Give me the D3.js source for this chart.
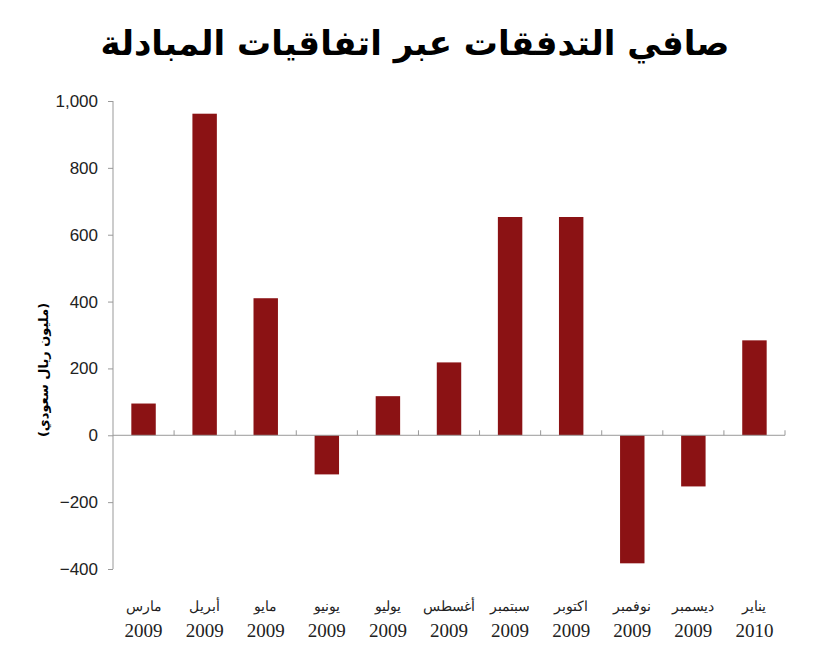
<!DOCTYPE html>
<html><head><meta charset="utf-8">
<script src="https://cdn.jsdelivr.net/npm/d3@7/dist/d3.min.js"></script>
<style>body{margin:0;background:#fff}</style></head>
<body><svg id="c" width="830" height="648"></svg>
<script>
const months = ["مارس","أبريل","مايو","يونيو","يوليو","أغسطس","سبتمبر","اكتوبر","نوفمبر","ديسمبر","يناير"];
const years = ["2009","2009","2009","2009","2009","2009","2009","2009","2009","2009","2010"];
const values = [95, 962, 410, -117, 117, 218, 653, 653, -383, -153, 284];
const yTicks = [-400,-200,0,200,400,600,800,1000];

const svg = d3.select("#c");
const x = d3.scaleBand().domain(d3.range(months.length)).range([113,785]).paddingInner(0.6).paddingOuter(0.3);
const band = d3.scaleBand().domain(d3.range(months.length)).range([113,785]);
const y = d3.scaleLinear().domain([-400,1000]).range([569,101]);

svg.append("text").attr("x",415).attr("y",55).attr("text-anchor","middle")
  .attr("font-family","DejaVu Sans").attr("font-weight","bold").attr("font-size",34).attr("direction","rtl")
  .text("صافي التدفقات عبر اتفاقيات المبادلة");

svg.selectAll("rect.b").data(values).join("rect")
  .attr("x",(d,i)=>x(i)).attr("width",x.bandwidth())
  .attr("y",d=>y(Math.max(0,d))).attr("height",d=>Math.abs(y(d)-y(0)))
  .attr("fill","#8b1214");

const ya = svg.append("g").attr("transform","translate(113,0)")
  .call(d3.axisLeft(y).tickValues(yTicks).tickSize(5).tickPadding(10));
ya.select(".domain").attr("stroke","#999").attr("d","M0,101V569");
ya.selectAll(".tick line").attr("stroke","#999");
ya.selectAll("text").attr("font-family","Liberation Sans").attr("font-size",17).attr("fill","#222");

const g0 = svg.append("g");
g0.append("line").attr("x1",113).attr("x2",785).attr("y1",y(0)).attr("y2",y(0)).attr("stroke","#999");
g0.selectAll("line.t").data(d3.range(1,months.length+1)).join("line")
  .attr("x1",i=>band.step()*i+113).attr("x2",i=>band.step()*i+113)
  .attr("y1",y(0)).attr("y2",y(0)-5).attr("stroke","#999");

const lab = svg.selectAll("g.l").data(months).join("g")
  .attr("transform",(d,i)=>`translate(${band(i)+band.bandwidth()/2},0)`);
lab.append("text").attr("y",611).attr("text-anchor","middle").attr("direction","rtl")
  .attr("font-family","DejaVu Serif").attr("font-size",14).attr("fill","#222").text(d=>d);
lab.append("text").attr("y",637).attr("text-anchor","middle")
  .attr("font-family","Liberation Serif").attr("font-size",19).attr("fill","#222").text((d,i)=>years[i]);

svg.append("text").attr("transform","translate(48,370) rotate(-90)").attr("text-anchor","middle")
  .attr("font-family","DejaVu Sans").attr("font-weight","bold").attr("font-size",13).attr("direction","rtl")
  .text("(مليون ريال سعودي)");
</script></body></html>
